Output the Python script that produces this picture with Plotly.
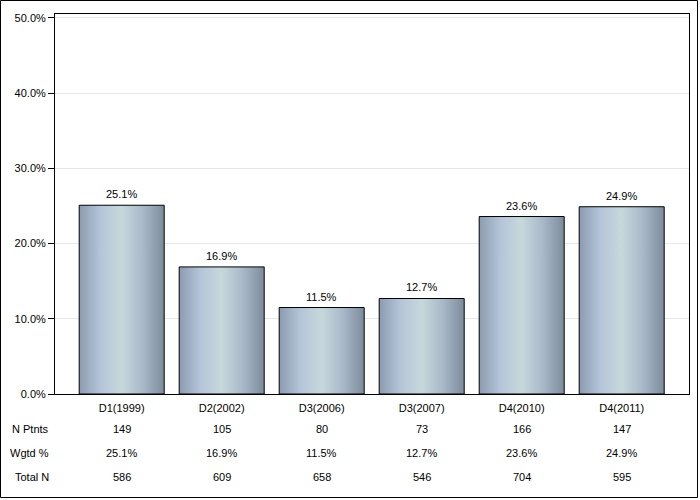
import plotly.graph_objects as go

categories = ["D1(1999)", "D2(2002)", "D3(2006)", "D3(2007)", "D4(2010)", "D4(2011)"]
pct = [25.1, 16.9, 11.5, 12.7, 23.6, 24.9]
n_ptnts = [149, 105, 80, 73, 166, 147]
wgtd = ["25.1%", "16.9%", "11.5%", "12.7%", "23.6%", "24.9%"]
total_n = [586, 609, 658, 546, 704, 595]
row_labels = ["N Ptnts", "Wgtd %", "Total N"]

W, H = 700, 500
L, R, T, B = 55, 11, 14, 106
PH = H - T - B
FONT = "Liberation Sans, Arial, sans-serif"
BW = 0.85

grad = [[0.0, "#8c9bb0"], [0.25, "#b5c5d9"], [0.5, "#c7d8dc"], [0.75, "#a9b8c9"], [1.0, "#7d8c9b"]]

fig = go.Figure()
for i, v in enumerate(pct):
    x0, x1 = i - BW / 2, i + BW / 2
    fig.add_trace(go.Scatter(
        x=[x0, x1, x1, x0, x0], y=[0, 0, v, v, 0],
        mode="lines", fill="toself",
        fillgradient=dict(type="horizontal", colorscale=grad),
        line=dict(color="black", width=1),
        hoverinfo="skip", showlegend=False))

def py2paper(py):
    return (H - B - py) / PH

ann = []
for i, v in enumerate(pct):
    ann.append(dict(x=i, y=v, xref="x", yref="y", text=f"{v:.1f}%", showarrow=False,
                    xanchor="center", yanchor="bottom", yshift=3,
                    font=dict(family=FONT, size=11, color="black")))

rows = [n_ptnts, wgtd, total_n]
row_y = [429, 453, 477]
for r, (vals, yy) in enumerate(zip(rows, row_y)):
    ann.append(dict(x=(51 - L) / (W - L - R), y=py2paper(yy), xref="paper", yref="paper",
                    text=row_labels[r], showarrow=False, xanchor="right", yanchor="middle",
                    font=dict(family=FONT, size=11, color="black")))
    for i, v in enumerate(vals):
        ann.append(dict(x=i, y=py2paper(yy), xref="x", yref="paper", text=str(v),
                        showarrow=False, xanchor="center", yanchor="middle",
                        font=dict(family=FONT, size=11, color="black")))

fig.update_layout(
    width=W, height=H,
    margin=dict(l=L, r=R, t=T, b=B, pad=0),
    paper_bgcolor="white", plot_bgcolor="white",
    font=dict(family=FONT, size=11, color="black"),
    annotations=ann,
    shapes=[dict(type="rect", xref="paper", yref="paper",
                 x0=(0.5 - L) / (W - L - R), x1=(697.5 - L) / (W - L - R),
                 y0=py2paper(497.5), y1=py2paper(0.5),
                 line=dict(color="black", width=1), fillcolor="rgba(0,0,0,0)", layer="below")],
    xaxis=dict(range=[-0.667, 5.673], tickvals=list(range(len(categories))), ticktext=categories,
               showgrid=False, zeroline=False, showline=True, linecolor="black", linewidth=1,
               mirror=True, ticks="outside", ticklen=4, tickcolor="rgba(0,0,0,0)",
               tickfont=dict(family=FONT, size=11, color="black")),
    yaxis=dict(range=[0, 50.53], tickvals=[0, 10, 20, 30, 40, 50],
               ticktext=["0.0%", "10.0%", "20.0%", "30.0%", "40.0%", "50.0%"],
               showgrid=True, gridcolor="#e8e8e8", gridwidth=1, zeroline=False,
               showline=True, linecolor="black", linewidth=1, mirror=True,
               ticks="outside", ticklen=6, tickcolor="black",
               tickfont=dict(family=FONT, size=11, color="black")),
)

fig.write_html("out.html")
